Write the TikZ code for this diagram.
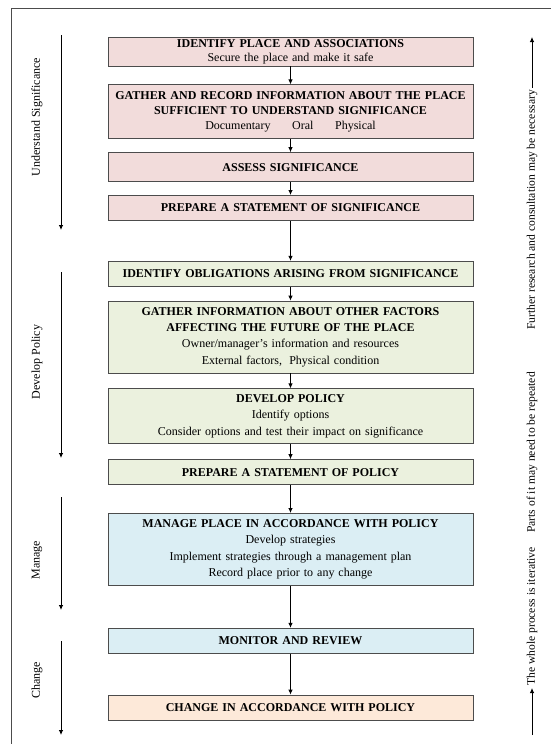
\documentclass[tikz,border=0pt]{standalone}
\usepackage{fontspec}
\setmainfont{Liberation Serif}
\usetikzlibrary{positioning,arrows.meta}

\definecolor{sigpink}{RGB}{242,220,219}
\definecolor{polgreen}{RGB}{235,241,222}
\definecolor{manblue}{RGB}{219,238,244}
\definecolor{chgpeach}{RGB}{253,233,217}

\begin{document}
\begin{tikzpicture}[
    x=1pt, y=-1pt,
    node distance=14pt,
    stage/.style={rectangle, draw=black!70, line width=0.8pt, text width=359pt, align=center, inner xsep=3pt, inner ysep=2pt, minimum height=25pt, font=\fontsize{12}{16.4}\selectfont},
    sig/.style={stage, fill=sigpink},
    pol/.style={stage, fill=polgreen},
    man/.style={stage, fill=manblue},
    chg/.style={stage, fill=chgpeach},
    phase/.style={rotate=90, inner sep=2pt, font=\fontsize{12}{14}\selectfont},
    side/.style={rotate=90, inner sep=2pt, font=\fontsize{11.6}{14}\selectfont},
    arrow/.style={-{Latex[length=5pt,width=4.5pt]}, line width=0.8pt}
]
    \useasboundingbox (0,0) rectangle (551,744);
    \draw[black!70, line width=0.8pt] (11,744) -- (11,8) -- (551,8);

    % Understand significance
    \node[sig, minimum height=29pt, font=\fontsize{12}{13.8}\selectfont] (place) at (290.5,51.5) {\textbf{IDENTIFY PLACE AND ASSOCIATIONS}\\Secure the place and make it safe};
    \node[sig, minimum height=54pt, font=\fontsize{12}{15}\selectfont, below=18pt of place] (gather) {\textbf{GATHER AND RECORD INFORMATION ABOUT THE PLACE}\\\textbf{SUFFICIENT TO UNDERSTAND SIGNIFICANCE}\\Documentary\hspace{1.8em}Oral\hspace{1.8em}Physical};
    \node[sig, minimum height=29pt, below=13pt of gather] (assess) {\textbf{ASSESS SIGNIFICANCE}};
    \node[sig, below=13pt of assess] (sigstat) {\textbf{PREPARE A STATEMENT OF SIGNIFICANCE}};

    % Develop policy
    \node[pol, below=40pt of sigstat] (oblig) {\textbf{IDENTIFY OBLIGATIONS ARISING FROM SIGNIFICANCE}};
    \node[pol, minimum height=72pt, below=14pt of oblig] (factors) {\textbf{GATHER INFORMATION ABOUT OTHER FACTORS}\\\textbf{AFFECTING THE FUTURE OF THE PLACE}\\Owner/manager’s information and resources\\External factors,\hspace{0.6em}Physical condition};
    \node[pol, minimum height=55pt, below=15pt of factors] (devpol) {\textbf{DEVELOP POLICY}\\Identify options\\Consider options and test their impact on significance};
    \node[pol, below=15pt of devpol] (polstat) {\textbf{PREPARE A STATEMENT OF POLICY}};

    % Manage
    \node[man, minimum height=72pt, below=28pt of polstat] (manage) {\textbf{MANAGE PLACE IN ACCORDANCE WITH POLICY}\\Develop strategies\\Implement strategies through a management plan\\Record place prior to any change};
    \node[man, below=42pt of manage] (monitor) {\textbf{MONITOR AND REVIEW}};

    % Change
    \node[chg, below=41pt of monitor] (change) {\textbf{CHANGE IN ACCORDANCE WITH POLICY}};

    % Phases
    \node[phase] (lunder) at (37,117) {Understand Significance};
    \node[phase] (ldevelop) at (37,362) {Develop Policy};
    \node[phase] (lmanage) at (37,560) {Manage};
    \node[phase] (lchange) at (37,680) {Change};
    \coordinate (u1) at (61,35);   \coordinate (u2) at (61,230);
    \coordinate (d1) at (61,272);  \coordinate (d2) at (61,458);
    \coordinate (m1) at (61,497);  \coordinate (m2) at (61,610);
    \coordinate (c1) at (61,641);  \coordinate (c2) at (61,735);

    % Iteration note
    \coordinate (ibot) at (532,735);
    \coordinate (itop) at (532,37);
    \node[side, anchor=west] (whole) at (532,688) {The whole process is iterative};
    \node[side, anchor=west] (parts) at (532,535) {Parts of it may need to be repeated};
    \node[side, anchor=west] (further) at (532,332) {Further research and consultation may be necessary};

    % Connections
    \draw[arrow] (place) -- (gather);
    \draw[arrow] (gather) -- (assess);
    \draw[arrow] (assess) -- (sigstat);
    \draw[arrow] (sigstat) -- (oblig);
    \draw[arrow] (oblig) -- (factors);
    \draw[arrow] (factors) -- (devpol);
    \draw[arrow] (devpol) -- (polstat);
    \draw[arrow] (polstat) -- (manage);
    \draw[arrow] (manage) -- (monitor);
    \draw[arrow] (monitor) -- (change);
    \draw[arrow] (u1) -- (u2);
    \draw[arrow] (d1) -- (d2);
    \draw[arrow] (m1) -- (m2);
    \draw[arrow] (c1) -- (c2);
    \draw[arrow] (ibot) -- (whole.west);
    \draw[arrow] (further.east) -- (itop);
\end{tikzpicture}
\end{document}
